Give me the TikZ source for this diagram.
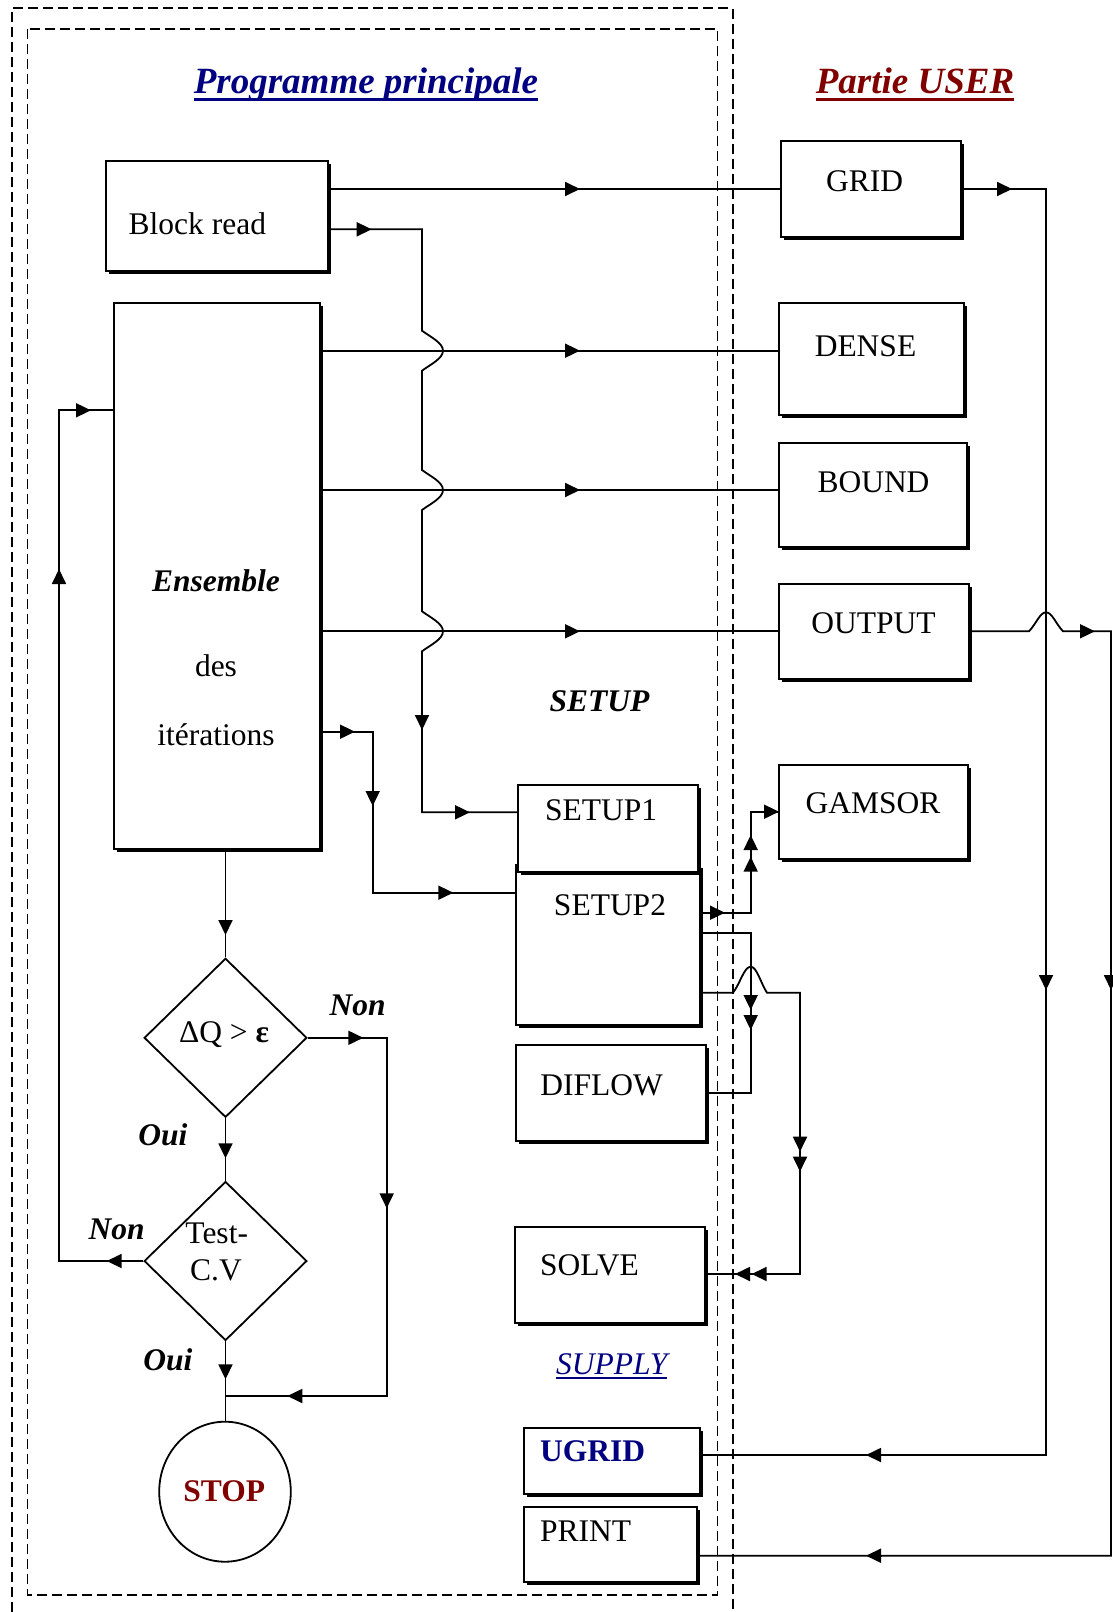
\documentclass[tikz,border=0pt]{standalone}
\usepackage{fontspec}
\setmainfont{Liberation Serif}
\usetikzlibrary{arrows.meta,shapes.geometric,shadows}
\definecolor{navyt}{RGB}{0,0,128}
\definecolor{maroont}{RGB}{128,0,0}
\newcommand{\ulbox}[3]{\leavevmode\setbox0\hbox{#3}\rlap{\rule[-#1]{\wd0}{#2}}\box0}
\begin{document}
\begin{tikzpicture}[x=1pt,y=-1pt,
  box/.style={draw, line width=2.2pt, fill=white, inner sep=0pt,
    drop shadow={shadow xshift=2.5pt, shadow yshift=-2.5pt, opacity=1, fill=black}},
  conn/.style={line width=1.8pt},
  arr/.style={line width=1.8pt, -{Triangle[length=15pt,width=14pt]}},
  txt/.style={inner sep=0pt, anchor=base, font=\fontsize{31.5}{36}\selectfont},
  bitxt/.style={txt, font=\fontsize{31.5}{36}\selectfont\bfseries\itshape},
  dashbox/.style={dash pattern=on 10pt off 5pt, line width=1.8pt},
  shape2/.style={draw, line width=1.8pt, inner sep=0pt}]
\useasboundingbox (0,0) rectangle (1112,1612);

% dashed frames
\draw[dashbox] (12,1612) -- (12,8.2) -- (732.8,8.2) -- (732.8,1612);
\draw[dashbox] (27.5,29) rectangle (717.5,1595);

% titles
\node[txt, font=\fontsize{37}{42}\selectfont\bfseries\itshape, text=navyt] (title1) at (366,93.3) {\ulbox{7.4pt}{3pt}{Programme principale}};
\node[txt, font=\fontsize{37}{42}\selectfont\bfseries\itshape, text=maroont] (title2) at (915,93.3) {\ulbox{7.4pt}{3pt}{Partie USER}};

% boxes
\node[box, minimum width=222pt, minimum height=110pt] (blockread) at (217,216) {};
\node[box, minimum width=180pt, minimum height=96pt] (grid) at (871,189) {};
\node[box, minimum width=206pt, minimum height=546pt] (ens) at (217,576) {};
\node[box, minimum width=185pt, minimum height=112pt] (dense) at (871.5,359) {};
\node[box, minimum width=188pt, minimum height=104pt] (bound) at (873,495) {};
\node[box, minimum width=190pt, minimum height=95pt] (output) at (874,631.5) {};
\node[box, minimum width=189pt, minimum height=94pt] (gamsor) at (873.5,812) {};
\node[box, minimum width=184pt, minimum height=160pt] (setup2) at (608,945) {};
\node[box, minimum width=180pt, minimum height=87pt] (setup1) at (608,828.5) {};
\node[box, minimum width=190pt, minimum height=96pt] (diflow) at (611,1093) {};
\node[box, minimum width=190pt, minimum height=96pt] (solve) at (610,1275) {};
\node[box, minimum width=176pt, minimum height=66pt] (ugrid) at (612,1461) {};
\node[box, minimum width=173pt, minimum height=75pt] (print) at (610.5,1544.5) {};

\node[shape2, diamond, minimum width=162.7pt, minimum height=159pt] (d1) at (225.5,1037.8) {};
\node[shape2, diamond, minimum width=162.7pt, minimum height=159pt] (d2) at (225.5,1261) {};
\node[shape2, ellipse, minimum width=131.6pt, minimum height=140pt] (stop) at (225,1491.7) {};

% texts
\node[txt, anchor=base west] (blockreadt) at (128.5,234.5) {Block read};
\node[txt] (gridt) at (864.5,191.5) {GRID};
\node[bitxt] (enst) at (216,591) {Ensemble};
\node[txt] (dest) at (216,676.6) {des};
\node[txt] (itert) at (216,745.5) {itérations};
\node[txt] (denset) at (865.5,356.5) {DENSE};
\node[txt] (boundt) at (873.5,492.5) {BOUND};
\node[txt] (outputt) at (873.5,633.5) {OUTPUT};
\node[txt] (gamsort) at (873,813.8) {GAMSOR};
\node[bitxt] (setupl) at (599.5,711.7) {SETUP};
\node[txt] (setup1t) at (601.2,820) {SETUP1};
\node[txt] (setup2t) at (610,915) {SETUP2};
\node[txt] (diflowt) at (601.5,1095) {DIFLOW};
\node[txt, anchor=base west] (solvet) at (540,1275.7) {SOLVE};
\node[txt, font=\fontsize{31.5}{36}\selectfont\itshape, text=navyt] (supplyt) at (611.8,1374) {\ulbox{5pt}{2.3pt}{SUPPLY}};
\node[txt, anchor=base west, font=\fontsize{31.5}{36}\selectfont\bfseries, text=navyt] (ugridt) at (540,1461.7) {UGRID};
\node[txt, anchor=base west] (printt) at (540,1541.7) {PRINT};
\node[txt] (d1t) at (224,1042) {ΔQ > \textbf{ε}};
\node[txt] (d2ta) at (216.7,1243.3) {Test-};
\node[txt] (d2tb) at (216,1280) {C.V};
\node[bitxt] (non1) at (357.7,1015) {Non};
\node[bitxt] (oui1) at (163,1145.7) {Oui};
\node[bitxt] (non2) at (116.7,1239) {Non};
\node[bitxt] (oui2) at (168,1370) {Oui};
\node[txt, font=\fontsize{31.5}{36}\selectfont\bfseries, text=maroont] (stopt) at (224.3,1501.7) {STOP};

% Block read -> GRID
\draw[conn] (blockread.east |- grid.west) -- (grid.west);
\draw[arr] (565,189) -- (580,189);

% Block read -> SETUP1 (with hops)
\draw[conn] (blockread.east |- 0,229.3) -- (422,229.3)
  -- (422,330.7) .. controls (430,336.7) and (443,342.7) .. (443,350.7) .. controls (443,358.7) and (430,364.7) .. (422,370.7)
  -- (422,470) .. controls (430,476) and (443,482) .. (443,490) .. controls (443,498) and (430,504) .. (422,510)
  -- (422,611.3) .. controls (430,617.3) and (443,623.3) .. (443,631.3) .. controls (443,639.3) and (430,645.3) .. (422,651.3)
  -- (422,812.3) -- (setup1.west |- 0,812.3);
\draw[arr] (356.7,229.3) -- (371.7,229.3);
\draw[arr] (422,715) -- (422,730);
\draw[arr] (455,812.3) -- (470,812.3);

% Ensemble -> DENSE, BOUND, OUTPUT
\draw[conn] (ens.east |- 0,350.7) -- (dense.west |- 0,350.7);
\draw[arr] (565,350.7) -- (580,350.7);
\draw[conn] (ens.east |- 0,490) -- (bound.west |- 0,490);
\draw[arr] (565,490) -- (580,490);
\draw[conn] (ens.east |- 0,631.3) -- (output.west |- 0,631.3);
\draw[arr] (565,631.3) -- (580,631.3);

% Ensemble -> SETUP2
\draw[conn] (ens.east |- 0,731.7) -- (372.7,731.7) -- (372.7,892.7) -- (setup2.west |- 0,892.7);
\draw[arr] (340,731.7) -- (355,731.7);
\draw[arr] (372.7,791) -- (372.7,806);
\draw[arr] (438.3,892.7) -- (453.3,892.7);

% Ensemble -> D1
\draw[conn] (d1.north |- ens.south) -- (d1.north);
\draw[arr] (225.5,920) -- (225.5,935);

% D1 -> Non branch
\draw[conn] (d1.east) -- (386.7,1037.8) -- (386.7,1396) -- (d2.south |- 0,1396);
\draw[arr] (348.3,1037.8) -- (363.3,1037.8);
\draw[arr] (386.7,1193.3) -- (386.7,1208.3);
\draw[arr] (302.3,1396) -- (287.3,1396);

% D1 -> D2
\draw[conn] (d1.south) -- (d2.north);
\draw[arr] (225.5,1143.3) -- (225.5,1158.3);

% D2 -> Ensemble (Non)
\draw[conn] (d2.west) -- (59,1261) -- (59,410.3) -- (ens.west |- 0,410.3);
\draw[arr] (121.7,1261) -- (106.7,1261);
\draw[arr] (59,584) -- (59,569);
\draw[arr] (76,410.3) -- (91,410.3);

% D2 -> STOP
\draw[conn] (d2.south) -- (d2.south |- stop.north);
\draw[arr] (225.5,1364.3) -- (225.5,1379.3);

% GRID -> UGRID
\draw[conn] (grid.east) -- (1046,189) -- (1046,1455) -- (ugrid.east |- 0,1455);
\draw[arr] (997,189) -- (1012,189);
\draw[arr] (1046,975) -- (1046,990);
\draw[arr] (881,1455) -- (866,1455);

% OUTPUT -> PRINT
\draw[conn] (output.east |- 0,631.3) -- (1029,631.3) .. controls (1036,624) and (1040,612.3) .. (1046,612.3) .. controls (1052,612.3) and (1056,624) .. (1063,631.3)
  -- (1111,631.3) -- (1111,1555.7) -- (print.east |- 0,1555.7);
\draw[arr] (1080,631.3) -- (1095,631.3);
\draw[arr] (1111,975) -- (1111,990);
\draw[arr] (881,1555.7) -- (866,1555.7);

% SETUP2 -> GAMSOR
\draw[conn] (setup2.east |- 0,912.7) -- (750.7,912.7) -- (750.7,811.7) -- (gamsor.west |- 0,811.7);
\draw[arr] (710,912.7) -- (725,912.7);
\draw[arr] (750.7,850) -- (750.7,835);
\draw[arr] (750.7,871.7) -- (750.7,856.7);
\draw[arr] (764,811.7) -- (779,811.7);

% SETUP2 -> DIFLOW
\draw[conn] (setup2.east |- 0,932.7) -- (750.7,932.7) -- (750.7,1093) -- (diflow.east);
\draw[arr] (750.7,995) -- (750.7,1010);
\draw[arr] (750.7,1015) -- (750.7,1030);

% SETUP2 -> SOLVE
\draw[conn] (setup2.east |- 0,992.7) -- (733,992.7) .. controls (740,984) and (744,966.7) .. (750.7,966.7) .. controls (757,966.7) and (761,984) .. (767,992.7)
  -- (800,992.7) -- (800,1274) -- (solve.east |- 0,1274);
\draw[arr] (800,1136.7) -- (800,1151.7);
\draw[arr] (800,1156.7) -- (800,1171.7);
\draw[arr] (750,1274) -- (735,1274);
\draw[arr] (766.7,1274) -- (751.7,1274);
\end{tikzpicture}
\end{document}
